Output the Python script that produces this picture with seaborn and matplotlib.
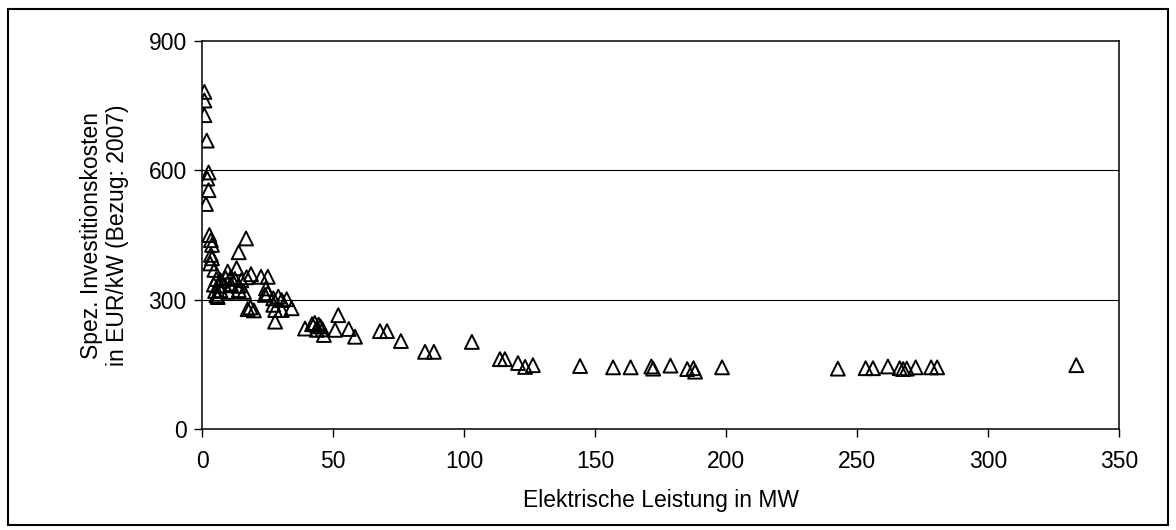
import matplotlib
matplotlib.use("Agg")
import matplotlib.pyplot as plt
import seaborn as sns
import pandas as pd
from matplotlib.patches import Rectangle

# ---- data ----
leistung_mw = [
    0.9, 0.9, 0.9, 1.8, 2.5, 2.0, 2.5, 1.5,
    2.8, 3.4, 3.8, 3.4, 3.8, 3.1, 16.8, 14.0,
    4.7, 9.8, 13.2, 18.7, 22.5, 25.1,
    5.5, 7.0, 9.0, 11.0, 12.5, 15.0, 17.0,
    4.5, 6.5, 8.5, 11.0, 14.0,
    5.0, 7.0, 10.0, 14.0, 16.0,
    5.5, 6.0,
    24.4, 25.1, 24.0,
    27.2, 29.1, 30.4, 32.3,
    27.2, 34.2, 27.9, 30.4, 27.9,
    17.4, 18.5, 19.8,
    39.3, 42.0, 43.0, 44.5, 45.2, 43.8, 46.0, 46.5, 50.8, 52.0, 56.0, 58.4,
    67.9, 70.6, 75.9, 85.1, 88.5, 103.0, 113.7, 115.6, 120.6, 123.3, 126.3, 144.3,
    156.9, 163.6, 171.5, 172.2, 178.8, 185.2, 187.6, 188.2, 198.5,
    242.7, 253.3, 256.1, 261.8, 266.3, 267.6, 269.0, 272.4, 278.3, 280.6, 333.7,
]
kosten_eur_kw = [
    782, 762, 728, 669, 595, 581, 554, 522,
    450, 438, 427, 404, 396, 384, 442, 410,
    369, 365, 373, 359, 353, 353,
    348, 345, 350, 352, 348, 345, 352,
    335, 332, 333, 336, 332,
    320, 322, 318, 322, 318,
    310, 306,
    326, 315, 311,
    303, 307, 299, 301,
    288, 280, 276, 276, 249,
    278, 282, 275,
    233, 243, 246, 242, 238, 230, 231, 218, 230, 264, 232, 214,
    227, 227, 204, 179, 179, 202, 162, 162, 153, 144, 148, 146,
    143, 143, 145, 140, 147, 139, 141, 133, 143,
    140, 141, 141, 145, 141, 139, 140, 143, 143, 143, 148,
]
x_ticks = [0, 50, 100, 150, 200, 250, 300, 350]
y_ticks = [0, 300, 600, 900]
x_label = "Elektrische Leistung in MW"
y_label = "Spez. Investitionskosten\nin EUR/kW (Bezug: 2007)"

df = pd.DataFrame({"x": leistung_mw, "y": kosten_eur_kw})

sns.set_style("ticks")
plt.rcParams["font.family"] = ["Liberation Sans", "DejaVu Sans"]
plt.rcParams["text.color"] = "black"
plt.rcParams["axes.labelcolor"] = "black"

fig = plt.figure(figsize=(11.76, 5.30), dpi=100)
ax = fig.add_axes([0.1718, 0.1906, 0.9515 - 0.1718, 0.9226 - 0.1906])

sns.scatterplot(data=df, x="x", y="y", ax=ax, marker="^", s=100,
                facecolors="none", edgecolor="black", linewidth=1.4, zorder=3)

ax.set_xlim(0, 350)
ax.set_ylim(0, 900)
ax.set_xticks(x_ticks)
ax.set_yticks(y_ticks)
for v in y_ticks[1:-1]:
    ax.axhline(v, color="black", lw=0.8, zorder=1)

for s in ax.spines.values():
    s.set_visible(True)
    s.set_color("black")
    s.set_linewidth(1.1)

ax.tick_params(axis="both", direction="out", length=6, width=1.0,
               labelsize=16.5, colors="black", pad=5)
ax.tick_params(axis="x", pad=9)
ax.set_xlabel(x_label, fontsize=16.5, labelpad=12, color="black")
ax.set_ylabel(y_label, fontsize=16.5, labelpad=14, linespacing=1.15, color="black")

# outer frame around the figure
fig.patches.append(Rectangle((8 / 1176, 5 / 530), 1 - 16 / 1176, 1 - 14 / 530,
                             transform=fig.transFigure, fill=False,
                             edgecolor="black", linewidth=1.5))

fig.savefig("out.png", dpi=100, facecolor="white")
